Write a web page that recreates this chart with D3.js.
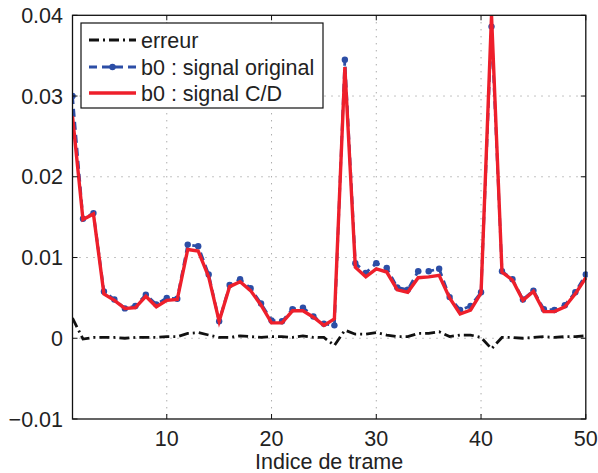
<!DOCTYPE html>
<html lang="fr">
<head>
<meta charset="utf-8">
<title>b0 : signal original vs C/D</title>
<script src="https://cdn.jsdelivr.net/npm/d3@7"></script>
<style>
  body { margin: 0; background: #fff; }
  text { font-family: "Liberation Sans", Arial, sans-serif; fill: #222; }
</style>
</head>
<body>
<script>
// indices de trame 1..50
var trames = d3.range(1, 51);

// b0 : signal original
var original = [0.0300,0.0148,0.0155,0.0058,0.0048,0.0037,0.0040,0.0054,0.0042,0.0050,
                0.0049,0.0116,0.0114,0.0079,0.0021,0.0066,0.0073,0.0062,0.0043,0.0022,
                0.0021,0.0036,0.0038,0.0027,0.0018,0.0016,0.0345,0.0093,0.0081,0.0093,
                0.0087,0.0063,0.0060,0.0083,0.0083,0.0086,0.0051,0.0035,0.0040,0.0057,
                0.0386,0.0083,0.0073,0.0048,0.0059,0.0036,0.0035,0.0041,0.0057,0.0079];

// b0 : signal C/D
var codec = [0.0275,0.0147,0.0154,0.0055,0.0047,0.0037,0.0038,0.0052,0.0039,0.0047,
             0.0048,0.0110,0.0108,0.0076,0.0021,0.0064,0.0070,0.0059,0.0041,0.0019,
             0.0019,0.0034,0.0034,0.0026,0.0016,0.0024,0.0336,0.0088,0.0076,0.0086,
             0.0082,0.0060,0.0057,0.0075,0.0076,0.0078,0.0050,0.0030,0.0035,0.0056,
             0.0400,0.0082,0.0072,0.0047,0.0058,0.0033,0.0033,0.0039,0.0055,0.0075];

// erreur
var erreur = [0.0025,-0.0001,0.0001,0.0001,0.0001,0.0000,0.0001,0.0001,0.0001,0.0002,
              0.0002,0.0006,0.0007,0.0004,0.0001,0.0001,0.0003,0.0002,0.0001,0.0002,
              0.0002,0.0001,0.0003,0.0001,0.0001,-0.0009,0.0010,0.0005,0.0005,0.0007,
              0.0004,0.0002,0.0002,0.0006,0.0006,0.0008,0.0002,0.0004,0.0004,0.0001,
              -0.0013,0.0001,0.0001,0.0000,0.0001,0.0002,0.0001,0.0002,0.0002,0.0003];

var xTicks = [10, 20, 30, 40, 50];
var yTicks = [-0.01, 0, 0.01, 0.02, 0.03, 0.04];
var yLabels = ["\u22120.01", "0", "0.01", "0.02", "0.03", "0.04"];
var legendLabels = ["erreur", "b0 : signal original", "b0 : signal C/D"];

var width = 598, height = 473;
var pL = 72.5, pR = 585.8, pT = 15.3, pB = 419;

var svg = d3.select("body").append("svg")
    .attr("width", width)
    .attr("height", height);

var x = d3.scaleLinear().domain([1, 50]).range([pL, pR]);
var y = d3.scaleLinear().domain([-0.01, 0.04]).range([pB, pT]);

// grille pointillée
var grid = svg.append("g")
    .attr("stroke", "#888")
    .attr("stroke-width", 1)
    .attr("stroke-dasharray", "1,6");
grid.selectAll(".gx").data(xTicks.filter(function(d) { return d < 50; })).enter()
    .append("line")
    .attr("x1", function(d) { return x(d); })
    .attr("x2", function(d) { return x(d); })
    .attr("y1", pT).attr("y2", pB);
grid.selectAll(".gy").data(yTicks.filter(function(d) { return d > -0.01 && d < 0.04; })).enter()
    .append("line")
    .attr("y1", function(d) { return y(d); })
    .attr("y2", function(d) { return y(d); })
    .attr("x1", pL).attr("x2", pR);

svg.append("clipPath").attr("id", "clip")
    .append("rect")
    .attr("x", pL).attr("y", pT)
    .attr("width", pR - pL + 2).attr("height", pB - pT);

var line = d3.line()
    .x(function(d, i) { return x(trames[i]); })
    .y(function(d) { return y(d); });

var plot = svg.append("g").attr("clip-path", "url(#clip)");

plot.append("path")
    .datum(erreur)
    .attr("d", line)
    .attr("fill", "none")
    .attr("stroke", "#111")
    .attr("stroke-width", 2.8)
    .attr("stroke-dasharray", "10,4,2,4");

plot.append("path")
    .datum(original)
    .attr("d", line)
    .attr("fill", "none")
    .attr("stroke", "#2c4ea6")
    .attr("stroke-width", 2.8)
    .attr("stroke-dasharray", "8,5");

plot.selectAll(".pt").data(original).enter()
    .append("circle")
    .attr("cx", function(d, i) { return x(trames[i]); })
    .attr("cy", function(d) { return y(d); })
    .attr("r", 3.2)
    .attr("fill", "#2c4ea6");

plot.append("path")
    .datum(codec)
    .attr("d", line)
    .attr("fill", "none")
    .attr("stroke", "#ee1f2b")
    .attr("stroke-width", 3.4)
    .attr("stroke-linejoin", "miter");

// cadre
svg.append("rect")
    .attr("x", pL).attr("y", pT)
    .attr("width", pR - pL).attr("height", pB - pT)
    .attr("fill", "none")
    .attr("stroke", "#111")
    .attr("stroke-width", 1.3);

// graduations intérieures
var tl = 5;
var ticks = svg.append("g").attr("stroke", "#111").attr("stroke-width", 1);
xTicks.forEach(function(t) {
    ticks.append("line").attr("x1", x(t)).attr("x2", x(t)).attr("y1", pB).attr("y2", pB - tl);
    ticks.append("line").attr("x1", x(t)).attr("x2", x(t)).attr("y1", pT).attr("y2", pT + tl);
});
yTicks.forEach(function(t) {
    ticks.append("line").attr("x1", pL).attr("x2", pL + tl).attr("y1", y(t)).attr("y2", y(t));
    ticks.append("line").attr("x1", pR).attr("x2", pR - tl).attr("y1", y(t)).attr("y2", y(t));
});

var fs = 21.5;

svg.selectAll(".xl").data(xTicks).enter()
    .append("text")
    .attr("x", function(d) { return x(d); })
    .attr("y", 446)
    .attr("text-anchor", "middle")
    .attr("font-size", fs)
    .text(function(d) { return d; });

svg.selectAll(".yl").data(yTicks).enter()
    .append("text")
    .attr("x", 63)
    .attr("y", function(d) { return y(d) + 7.5; })
    .attr("text-anchor", "end")
    .attr("font-size", fs)
    .text(function(d, i) { return yLabels[i]; });

svg.append("text")
    .attr("x", (pL + pR) / 2)
    .attr("y", 468.5)
    .attr("text-anchor", "middle")
    .attr("font-size", fs)
    .text("Indice de trame");

// légende
var lg = svg.append("g");
lg.append("rect")
    .attr("x", 81).attr("y", 23)
    .attr("width", 242).attr("height", 85)
    .attr("fill", "#fff")
    .attr("stroke", "#111")
    .attr("stroke-width", 1.2);

var legendY = [40, 67, 93];
var legendStyles = [
    {stroke: "#111", width: 2.8, dash: "10,4,2,4", dot: false},
    {stroke: "#2c4ea6", width: 2.8, dash: "8,5", dot: true},
    {stroke: "#ee1f2b", width: 3.4, dash: null, dot: false}
];
legendLabels.forEach(function(lab, i) {
    var s = legendStyles[i];
    lg.append("line")
        .attr("x1", 89).attr("x2", 136)
        .attr("y1", legendY[i]).attr("y2", legendY[i])
        .attr("stroke", s.stroke)
        .attr("stroke-width", s.width)
        .attr("stroke-dasharray", s.dash);
    if (s.dot) {
        lg.append("circle").attr("cx", 112.5).attr("cy", legendY[i]).attr("r", 3.2).attr("fill", s.stroke);
    }
    lg.append("text")
        .attr("x", 141)
        .attr("y", legendY[i] + 7.5)
        .attr("font-size", 21.5)
        .text(lab);
});
</script>
</body>
</html>
